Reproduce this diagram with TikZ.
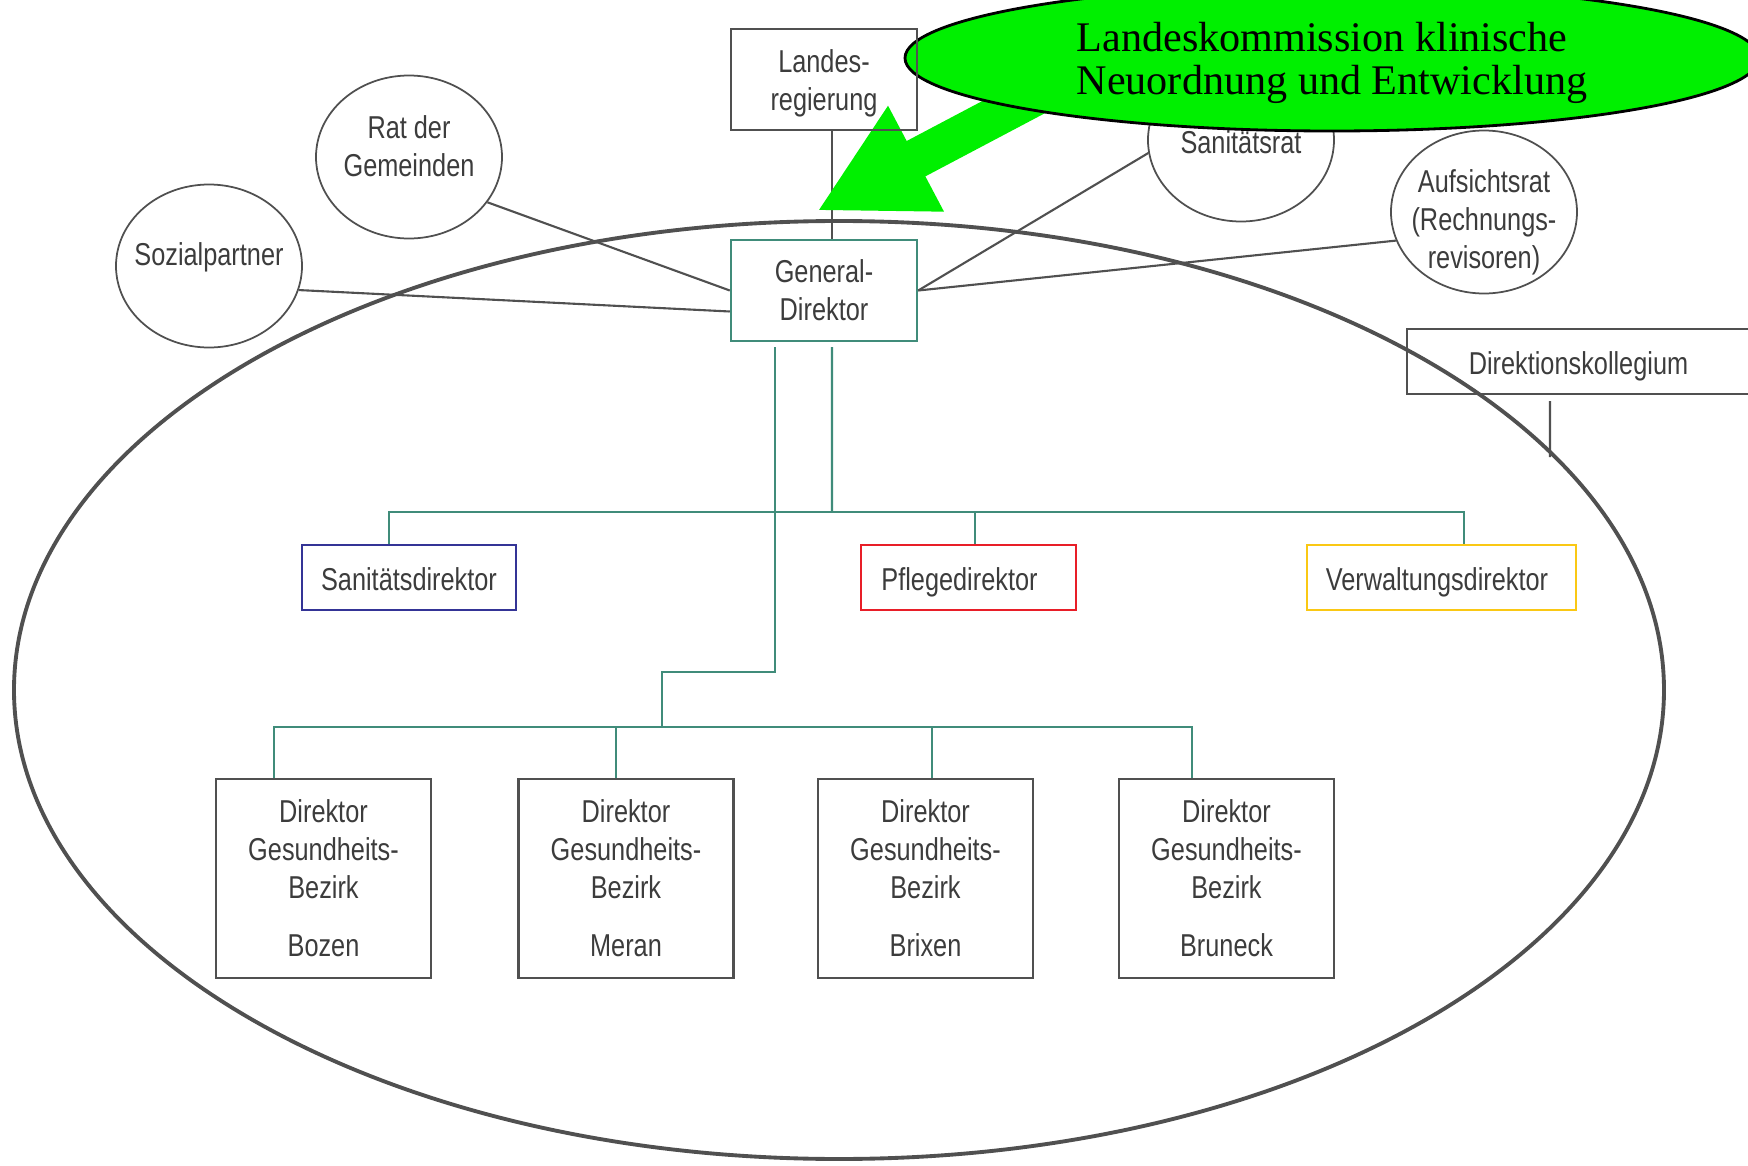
\documentclass[tikz,border=0pt]{standalone}
\usepackage{fontspec}
\setmainfont{Liberation Serif}
\newfontfamily\narrowsans{Liberation Sans}[FakeStretch=0.8]
\usepackage{tikz}
\usetikzlibrary{shapes.geometric}
\usetikzlibrary{arrows.meta}
\pgfdeclarelayer{front}
\pgfsetlayers{main,front}

\definecolor{orgteal}{RGB}{64,140,122}
\definecolor{orgblue}{RGB}{52,52,150}
\definecolor{orgred}{RGB}{232,30,40}
\definecolor{orgyellow}{RGB}{250,200,20}
\definecolor{orggray}{RGB}{80,80,80}
\definecolor{orgtext}{RGB}{60,60,60}
\definecolor{calloutgreen}{RGB}{0,240,0}

\newcommand{\orgfont}{\narrowsans\fontsize{9}{10.8}\selectfont}
\newcommand{\bezirk}[1]{Direktor\\Gesundheits-\\Bezirk\\[5.7pt]#1}

\tikzset{
  orgbox/.style={draw=orggray, line width=0.7pt, inner sep=0pt, align=center,
    font=\orgfont, text=orgtext},
  oneline/.style={text height=7.6pt, text depth=0pt},
  council/.style={ellipse, draw=orggray, line width=0.5pt, inner sep=0pt,
    minimum width=1.86cm, minimum height=1.63cm},
  councilname/.style={align=center, font=\orgfont, text=orgtext, inner sep=0pt},
  link/.style={draw=orggray, line width=0.6pt},
  conn/.style={draw=orgteal, line width=0.6pt},
}

\begin{document}
\begin{tikzpicture}
    \useasboundingbox (0,0) rectangle (17.48,-11.66);
    % outer region
    \draw[orggray, line width=1.1pt] (8.39,-6.90) ellipse [x radius=8.25, y radius=4.69];

    \begin{pgfonlayer}{front}
      \node[orgbox, minimum width=1.86cm, minimum height=1.01cm,
        label={[councilname, yshift=-0.4mm]center:{Landes-\\regierung}}] (lr) at (8.24,-0.795) {};
    \end{pgfonlayer}
    \node[orgbox, draw=orgteal, minimum width=1.86cm, minimum height=1.01cm] (gd) at (8.24,-2.905) {General-\\Direktor};

    \node[council, label={[councilname, yshift=1.05mm]center:{Rat der\\Gemeinden}}] (rat) at (4.09,-1.57) {};
    \node[council, label={[councilname, yshift=0.9mm]center:{Sozialpartner}}] (soz) at (2.09,-2.66) {};
    \node[council, label={[councilname, yshift=-0.2mm]center:{Sanitätsrat}}] (sanrat) at (12.41,-1.40) {};
    \node[council, label={[councilname, yshift=-1.05mm]center:{Aufsichtsrat\\(Rechnungs-\\revisoren)}}] (auf) at (14.84,-2.12) {};
    \node[orgbox, oneline, minimum width=3.43cm, minimum height=0.65cm] (dk) at (15.785,-3.615) {Direktionskollegium};

    \node[orgbox, oneline, draw=orgblue, minimum width=2.14cm, minimum height=0.65cm] (sd) at (4.09,-5.775) {Sanitätsdirektor};
    \node[orgbox, oneline, draw=orgred, minimum width=2.15cm, minimum height=0.65cm] (pd) at (9.685,-5.775) {Pflegedirektor\hspace*{1.8mm}};
    \node[orgbox, oneline, draw=orgyellow, minimum width=2.69cm, minimum height=0.65cm] (vd) at (14.415,-5.775) {Verwaltungsdirektor\hspace*{0.9mm}};

    \node[orgbox, minimum width=2.15cm, minimum height=1.99cm] (bz) at (3.235,-8.785) {\bezirk{Bozen}};
    \node[orgbox, minimum width=2.15cm, minimum height=1.99cm] (me) at (6.26,-8.785) {\bezirk{Meran}};
    \node[orgbox, minimum width=2.15cm, minimum height=1.99cm] (bx) at (9.255,-8.785) {\bezirk{Brixen}};
    \node[orgbox, minimum width=2.15cm, minimum height=1.99cm] (bk) at (12.265,-8.785) {\bezirk{Bruneck}};

    % lines to the general director
    \coordinate (dkfoot) at (15.50,-4.57);
    \draw[link] ([xshift=0.8mm]lr.south) -- ([xshift=0.8mm]gd.north);
    \draw[link] (rat.-30) -- (gd.west);
    \draw[link] (soz.-15) -- ([yshift=-2.1mm]gd.west);
    \draw[link] (sanrat.188) -- (gd.east);
    \draw[link] (auf.198) -- (gd.east);
    \draw[link] ([xshift=-2.85mm,yshift=-0.6mm]dk.south) -- (dkfoot);

    % tree
    \coordinate (bar) at (8.32,-5.12);
    \coordinate (split) at (6.62,-7.27);
    \draw[conn] ([xshift=0.8mm,yshift=-0.5mm]gd.south) -- (bar);
    \draw[conn] ([xshift=-2mm]sd.north) |- (bar) -| ([xshift=2.25mm]vd.north);
    \draw[conn] ([xshift=0.65mm]pd.north) -- ([xshift=0.65mm]pd.north |- bar);
    \draw[conn] ([xshift=-4.9mm,yshift=-0.5mm]gd.south) |- ([yshift=5.5mm]split) -- (split);
    \draw[conn] ([xshift=-4.95mm]bz.north) |- (split) -| ([xshift=-3.45mm]bk.north);
    \draw[conn] ([xshift=-1mm]me.north) -- ([xshift=-1mm]me.north |- split);
    \draw[conn] ([xshift=0.65mm]bx.north) -- ([xshift=0.65mm]bx.north |- split);

    % callout
    \coordinate (callfoot) at (10.82,-0.71);
    \coordinate (calltip) at (8.17,-2.11);
    \draw[calloutgreen, line width=4mm, -{Triangle[length=11.2mm, width=11.1mm]}] (callfoot) -- (calltip);
    \node[ellipse, fill=calloutgreen, draw=black, line width=0.8pt, minimum width=8.54cm,
      minimum height=1.46cm, inner sep=0pt,
      label={[align=left, inner sep=0pt, yshift=-0.5mm, font=\fontsize{12}{12.4}\selectfont]center:{Landeskommission klinische\\Neuordnung und Entwicklung}}]
      (callout) at (13.32,-0.58) {};
\end{tikzpicture}
\end{document}
